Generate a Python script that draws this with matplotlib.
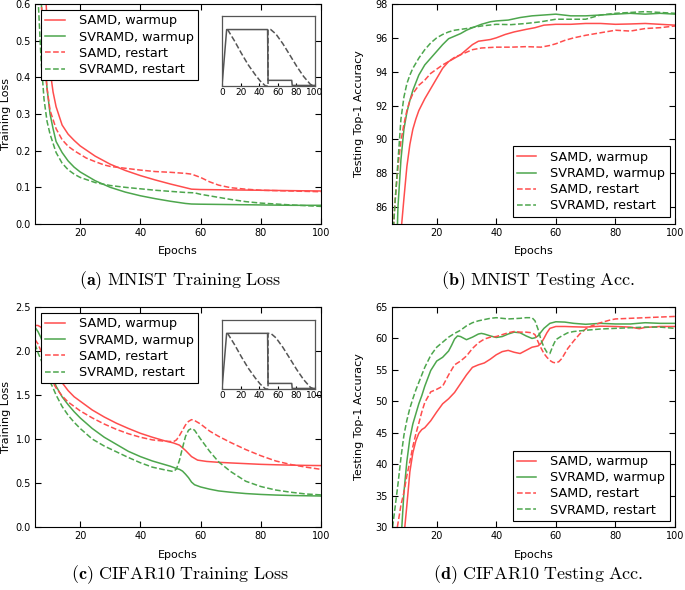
import matplotlib
matplotlib.use("Agg")
import matplotlib.pyplot as plt

plt.rcParams["mathtext.fontset"] = "cm"
plt.rcParams["font.family"] = "DejaVu Sans"

RED = (1.0, 0.30, 0.30)
GREEN = (0.30, 0.65, 0.30)
LABELS = ["SAMD, warmup", "SVRAMD, warmup", "SAMD, restart", "SVRAMD, restart"]

# ---- (a) MNIST training loss ----
a_samd_w_x = [5, 7, 8, 9, 10, 11, 12, 14, 16, 18, 20, 25, 30, 35, 40, 45, 50, 55, 57, 60, 70, 80, 90, 100]
a_samd_w_y = [1.4, 0.95, 0.72, 0.55, 0.42, 0.36, 0.32, 0.27, 0.245, 0.228, 0.213, 0.185, 0.163, 0.146,
              0.132, 0.12, 0.109, 0.099, 0.095, 0.094, 0.093, 0.092, 0.091, 0.09]
a_svr_w_x = [5, 6, 7, 8, 9, 10, 11, 12, 14, 16, 18, 20, 25, 30, 35, 40, 45, 50, 55, 57, 60, 70, 80, 90, 100]
a_svr_w_y = [1.2, 0.85, 0.62, 0.46, 0.37, 0.3, 0.26, 0.225, 0.195, 0.172, 0.155, 0.142, 0.118, 0.1,
             0.087, 0.077, 0.069, 0.062, 0.056, 0.0545, 0.054, 0.053, 0.052, 0.051, 0.051]
a_samd_r_x = [5, 6, 7, 8, 9, 10, 12, 14, 16, 18, 20, 22, 25, 28, 30, 35, 40, 45, 50, 55, 57, 60, 63, 66,
              70, 75, 80, 90, 100]
a_samd_r_y = [1.0, 0.8, 0.62, 0.47, 0.37, 0.31, 0.26, 0.23, 0.212, 0.2, 0.19, 0.18, 0.17, 0.161, 0.157,
              0.152, 0.147, 0.143, 0.141, 0.138, 0.136, 0.127, 0.115, 0.106, 0.099, 0.095, 0.092, 0.09, 0.088]
a_svr_r_x = [5, 6, 7, 8, 9, 10, 12, 14, 16, 18, 20, 25, 30, 35, 40, 45, 50, 55, 58, 60, 65, 70, 75, 80, 90, 100]
a_svr_r_y = [0.8, 0.62, 0.45, 0.34, 0.28, 0.245, 0.195, 0.166, 0.148, 0.136, 0.127, 0.113, 0.105, 0.1,
             0.096, 0.092, 0.089, 0.086, 0.085, 0.081, 0.074, 0.067, 0.061, 0.057, 0.052, 0.048]

# ---- (b) MNIST testing accuracy ----
b_samd_w_x = [8, 9, 10, 11, 12, 13, 14, 16, 18, 20, 22, 24, 26, 28, 30, 32, 34, 36, 38, 40, 43, 46, 50,
              53, 56, 60, 65, 70, 75, 80, 85, 90, 95, 100]
b_samd_w_y = [84.5, 86.5, 88.4, 89.7, 90.6, 91.2, 91.7, 92.4, 93.0, 93.6, 94.2, 94.6, 94.8, 95.0, 95.3,
              95.6, 95.8, 95.85, 95.9, 96.0, 96.2, 96.35, 96.5, 96.6, 96.75, 96.8, 96.8, 96.85, 96.85,
              96.8, 96.82, 96.85, 96.8, 96.75]
b_svr_w_x = [6.8, 7, 8, 9, 10, 11, 12, 14, 16, 18, 20, 22, 24, 26, 28, 30, 32, 35, 38, 40, 44, 48, 52,
             56, 60, 65, 70, 75, 80, 85, 90, 95, 100]
b_svr_w_y = [84.8, 86, 88.8, 90.6, 91.6, 92.3, 92.9, 93.8, 94.4, 94.8, 95.2, 95.6, 95.95, 96.1, 96.25,
             96.45, 96.6, 96.8, 96.95, 97.0, 97.05, 97.2, 97.3, 97.35, 97.4, 97.3, 97.3, 97.35, 97.4,
             97.45, 97.4, 97.45, 97.4]
b_samd_r_x = [5.5, 6, 7, 8, 9, 10, 11, 12, 14, 16, 18, 20, 22, 24, 26, 28, 30, 32, 35, 40, 45, 50, 55,
              58, 60, 63, 66, 70, 75, 80, 85, 90, 95, 100]
b_samd_r_y = [84.8, 86.3, 88.4, 89.9, 90.9, 91.7, 92.3, 92.7, 93.2, 93.5, 93.9, 94.15, 94.4, 94.6,
              94.85, 95.0, 95.15, 95.3, 95.4, 95.45, 95.45, 95.48, 95.45, 95.55, 95.65, 95.85, 96.0,
              96.15, 96.3, 96.45, 96.4, 96.55, 96.6, 96.7]
b_svr_r_x = [5.5, 6, 7, 8, 9, 10, 11, 12, 14, 16, 18, 20, 22, 24, 26, 28, 30, 35, 40, 45, 50, 55, 60,
             65, 70, 75, 80, 85, 90, 95, 100]
b_svr_r_y = [84.8, 86.2, 88.7, 91.2, 92.5, 93.3, 93.8, 94.2, 94.8, 95.3, 95.7, 96.0, 96.2, 96.35,
             96.45, 96.5, 96.55, 96.7, 96.8, 96.78, 96.85, 96.95, 97.1, 97.1, 97.1, 97.35, 97.45, 97.5,
             97.55, 97.5, 97.45]

# ---- (c) CIFAR10 training loss ----
c_samd_w_x = [5, 6, 7, 8, 9, 10, 11, 12, 14, 16, 18, 20, 24, 28, 32, 36, 40, 44, 48, 51, 53, 55, 57,
              59, 62, 66, 70, 75, 80, 85, 90, 95, 100]
c_samd_w_y = [2.29, 2.29, 2.27, 2.22, 2.12, 2.0, 1.88, 1.78, 1.64, 1.55, 1.48, 1.43, 1.33, 1.25, 1.18,
              1.12, 1.065, 1.02, 0.98, 0.955, 0.93, 0.87, 0.8, 0.76, 0.745, 0.735, 0.728, 0.72, 0.712,
              0.707, 0.703, 0.7, 0.698]
c_svr_w_x = [5, 6, 7, 8, 9, 10, 11, 12, 14, 16, 18, 20, 24, 28, 32, 36, 40, 44, 48, 50, 52, 53, 54, 55,
             56, 57, 58, 60, 63, 66, 70, 75, 80, 85, 90, 95, 100]
c_svr_w_y = [2.27, 2.22, 2.15, 2.05, 1.93, 1.8, 1.7, 1.6, 1.48, 1.39, 1.31, 1.24, 1.12, 1.02, 0.94,
             0.86, 0.8, 0.75, 0.71, 0.69, 0.665, 0.655, 0.635, 0.6, 0.56, 0.51, 0.48, 0.455, 0.43,
             0.41, 0.395, 0.38, 0.37, 0.363, 0.358, 0.355, 0.352]
c_samd_r_x = [5, 6, 7, 8, 9, 10, 12, 14, 16, 18, 20, 24, 28, 32, 36, 40, 44, 48, 51, 52, 53, 54, 55, 56,
              57, 58, 60, 63, 66, 70, 75, 80, 85, 90, 95, 100]
c_samd_r_y = [2.13, 2.08, 2.0, 1.9, 1.8, 1.7, 1.58, 1.49, 1.42, 1.37, 1.32, 1.24, 1.17, 1.11, 1.06,
              1.02, 0.99, 0.975, 0.97, 0.99, 1.04, 1.1, 1.16, 1.2, 1.22, 1.21, 1.17, 1.09, 1.03, 0.96,
              0.88, 0.81, 0.75, 0.71, 0.68, 0.655]
c_svr_r_x = [5, 6, 7, 8, 9, 10, 11, 12, 14, 16, 18, 20, 24, 28, 32, 36, 40, 44, 48, 51, 52, 53, 54, 55,
             56, 57, 58, 60, 63, 66, 70, 75, 80, 85, 90, 95, 100]
c_svr_r_y = [2.08, 1.98, 1.9, 1.82, 1.73, 1.65, 1.58, 1.5, 1.37, 1.27, 1.19, 1.12, 1.0, 0.92, 0.855,
             0.79, 0.73, 0.68, 0.65, 0.63, 0.66, 0.76, 0.9, 1.03, 1.1, 1.12, 1.1, 1.0, 0.86, 0.74,
             0.63, 0.52, 0.46, 0.42, 0.395, 0.375, 0.365]

# ---- (d) CIFAR10 testing accuracy ----
d_samd_w_x = [9.3, 10, 11, 12, 13, 14, 15, 16, 18, 20, 22, 24, 26, 28, 30, 32, 34, 36, 38, 40, 42, 44,
              46, 48, 50, 52, 54, 55, 56, 57, 58, 60, 63, 66, 70, 75, 80, 85, 88, 90, 95, 100]
d_samd_w_y = [30, 33.5, 38.8, 41.8, 43.7, 44.9, 45.5, 45.8, 46.9, 48.3, 49.6, 50.4, 51.4, 52.8, 54.2,
              55.4, 55.8, 56.1, 56.7, 57.4, 57.9, 58.1, 57.8, 57.6, 58.1, 58.6, 58.8, 59.2, 60.0, 60.9,
              61.6, 61.9, 61.9, 61.85, 61.8, 61.95, 61.9, 61.8, 61.55, 61.75, 61.9, 61.9]
d_svr_w_x = [8.3, 9, 10, 11, 12, 13, 14, 15, 16, 18, 20, 22, 24, 25, 26, 27, 28, 30, 32, 34, 35, 36, 38,
             40, 42, 44, 46, 48, 50, 52, 53, 54, 56, 58, 60, 63, 66, 70, 75, 80, 85, 90, 95, 100]
d_svr_w_y = [30, 35.5, 40.5, 44.1, 46.4, 48.0, 49.6, 50.9, 52.4, 54.9, 56.4, 57.0, 58.0, 58.9, 59.9,
             60.4, 60.3, 59.8, 60.2, 60.7, 60.8, 60.7, 60.4, 60.15, 60.3, 60.7, 61.0, 60.9, 60.4, 60.0,
             60.1, 60.4, 61.6, 62.4, 62.65, 62.6, 62.4, 62.25, 62.4, 62.3, 62.3, 62.5, 62.4, 62.4]
d_samd_r_x = [6.8, 7.5, 8, 9, 10, 11, 12, 13, 14, 15, 16, 18, 20, 22, 24, 26, 28, 30, 32, 34, 36, 38,
              40, 42, 44, 46, 48, 50, 52, 53, 54, 55, 56, 57, 58, 59, 60, 61, 62, 63, 64, 66, 68, 70,
              72, 75, 78, 80, 85, 90, 95, 100]
d_samd_r_y = [30, 32, 33.5, 35.5, 38.2, 40.4, 42.8, 44.8, 46.5, 48.3, 49.8, 51.5, 51.9, 52.4, 54.2,
              55.8, 56.4, 57.2, 58.4, 59.3, 59.9, 60.2, 60.3, 60.6, 60.9, 61.1, 61.0, 61.0, 60.9, 60.6,
              59.5, 58.5, 57.6, 57.0, 56.5, 56.2, 56.1, 56.3, 56.8, 57.6, 58.4, 59.6, 60.7, 61.5, 62.0,
              62.5, 62.9, 63.1, 63.2, 63.3, 63.4, 63.5]
d_svr_r_x = [5.2, 6, 7, 8, 9, 10, 11, 12, 13, 14, 15, 16, 18, 20, 22, 24, 26, 28, 30, 32, 34, 36, 38,
             40, 42, 44, 46, 48, 50, 52, 53, 54, 55, 56, 57, 58, 59, 60, 62, 64, 66, 70, 75, 80, 85, 90,
             95, 100]
d_svr_r_y = [30, 33, 36.8, 41, 44.6, 47, 48.9, 50.4, 51.8, 53.0, 54.2, 55.4, 57.3, 58.6, 59.4, 60.2,
             60.8, 61.3, 62.0, 62.5, 62.8, 63.0, 63.2, 63.3, 63.2, 63.1, 63.15, 63.2, 63.3, 63.3, 62.8,
             61.5, 59.8, 58.6, 57.8, 57.6, 58.8, 59.8, 60.4, 60.9, 61.1, 61.3, 61.5, 61.6, 61.7, 61.8,
             61.8, 61.6]

# ---- learning-rate schedule inset ----
lr_warm_x = [0, 5, 49, 49.5, 75, 75.5, 100]
lr_warm_y = [0, 1, 1, 0.1, 0.1, 0.01, 0.01]
lr_cos_x = [6, 13.4, 20.8, 28, 35.7, 41, 46.8, 49.5, 49.5, 52.4, 58, 65.4, 72.9, 80.3, 87.7, 95, 99]
lr_cos_y = [1.0, 0.8, 0.58, 0.38, 0.2, 0.09, 0.0, 0.0, 1.0, 1.0, 0.92, 0.75, 0.55, 0.35, 0.17, 0.03, 0.0]

W, H = 685, 590
fig = plt.figure(figsize=(W / 100, H / 100), dpi=100)


def box(l, t, r, b):
    return [l / W, 1 - b / H, (r - l) / W, (b - t) / H]


def style_axes(ax):
    ax.tick_params(direction="in", top=True, right=True, length=4, labelsize=7, pad=3)
    for s in ax.spines.values():
        s.set_linewidth(0.8)


def draw(ax, series):
    colors = [RED, GREEN, RED, GREEN]
    styles = ["-", "-", "--", "--"]
    for (xs, ys), c, ls, lab in zip(series, colors, styles, LABELS):
        ax.plot(xs, ys, color=c, ls=ls, lw=1.1, label=lab)


def legend(ax, loc, anchor):
    lg = ax.legend(loc=loc, bbox_to_anchor=anchor, fontsize=9.2, handlelength=1.5,
                   handletextpad=1.1, labelspacing=0.25, borderpad=0.35, fancybox=False,
                   framealpha=1, edgecolor="black", borderaxespad=0)
    lg.get_frame().set_linewidth(0.8)


def inset(rect):
    ins = fig.add_axes(rect)
    ins.plot(lr_warm_x, lr_warm_y, color="#555555", lw=1.1)
    ins.plot(lr_cos_x, lr_cos_y, color="#555555", lw=1.1, ls="--")
    ins.set_xlim(0, 100)
    ins.set_ylim(0, 1.24)
    ins.set_yticks([])
    ins.set_xticks([0, 20, 40, 60, 80, 100])
    ins.tick_params(direction="in", length=2, labelsize=6.5, pad=1.5)
    for s in ins.spines.values():
        s.set_color("#555555")
        s.set_linewidth(0.9)


def caption(x, y, tag, text):
    words = text.replace(" ", r"\ ")
    fig.text(x / W, 1 - y / H, r"$\mathbf{(" + tag + r")}\ \mathrm{" + words + "}$",
             ha="center", va="center", fontsize=13)


ax_a = fig.add_axes(box(35, 4, 321, 224))
draw(ax_a, [(a_samd_w_x, a_samd_w_y), (a_svr_w_x, a_svr_w_y),
            (a_samd_r_x, a_samd_r_y), (a_svr_r_x, a_svr_r_y)])
ax_a.set_xlim(5, 100)
ax_a.set_ylim(0, 0.6)
ax_a.set_yticks([0.0, 0.1, 0.2, 0.3, 0.4, 0.5, 0.6])
ax_a.set_ylabel("Training Loss", fontsize=8, labelpad=3)
legend(ax_a, "upper left", (0.021, 0.973))

ax_b = fig.add_axes(box(392, 4, 675, 224))
draw(ax_b, [(b_samd_w_x, b_samd_w_y), (b_svr_w_x, b_svr_w_y),
            (b_samd_r_x, b_samd_r_y), (b_svr_r_x, b_svr_r_y)])
ax_b.set_xlim(5, 100)
ax_b.set_ylim(85, 98)
ax_b.set_yticks([86, 88, 90, 92, 94, 96, 98])
ax_b.set_ylabel("Testing Top-1 Accuracy", fontsize=8, labelpad=8)
legend(ax_b, "lower right", (0.982, 0.032))

ax_c = fig.add_axes(box(35, 307, 321, 527))
draw(ax_c, [(c_samd_w_x, c_samd_w_y), (c_svr_w_x, c_svr_w_y),
            (c_samd_r_x, c_samd_r_y), (c_svr_r_x, c_svr_r_y)])
ax_c.set_xlim(5, 100)
ax_c.set_ylim(0, 2.5)
ax_c.set_yticks([0.0, 0.5, 1.0, 1.5, 2.0, 2.5])
ax_c.set_ylabel("Training Loss", fontsize=8, labelpad=3)
legend(ax_c, "upper left", (0.021, 0.973))

ax_d = fig.add_axes(box(392, 307, 675, 527))
draw(ax_d, [(d_samd_w_x, d_samd_w_y), (d_svr_w_x, d_svr_w_y),
            (d_samd_r_x, d_samd_r_y), (d_svr_r_x, d_svr_r_y)])
ax_d.set_xlim(5, 100)
ax_d.set_ylim(30, 65)
ax_d.set_yticks([30, 35, 40, 45, 50, 55, 60, 65])
ax_d.set_ylabel("Testing Top-1 Accuracy", fontsize=8, labelpad=8)
legend(ax_d, "lower right", (0.982, 0.027))

for ax in (ax_a, ax_b, ax_c, ax_d):
    style_axes(ax)
    ax.set_xticks([20, 40, 60, 80, 100])
    ax.set_xlabel("Epochs", fontsize=8, labelpad=6)

inset(box(222, 16, 315, 86))
inset(box(222, 320, 315, 389))

caption(180, 281, "a", "MNIST Training Loss")
caption(538, 281, "b", "MNIST Testing Acc.")
caption(180, 575, "c", "CIFAR10 Training Loss")
caption(538, 575, "d", "CIFAR10 Testing Acc.")

fig.savefig("out.png", dpi=100)
